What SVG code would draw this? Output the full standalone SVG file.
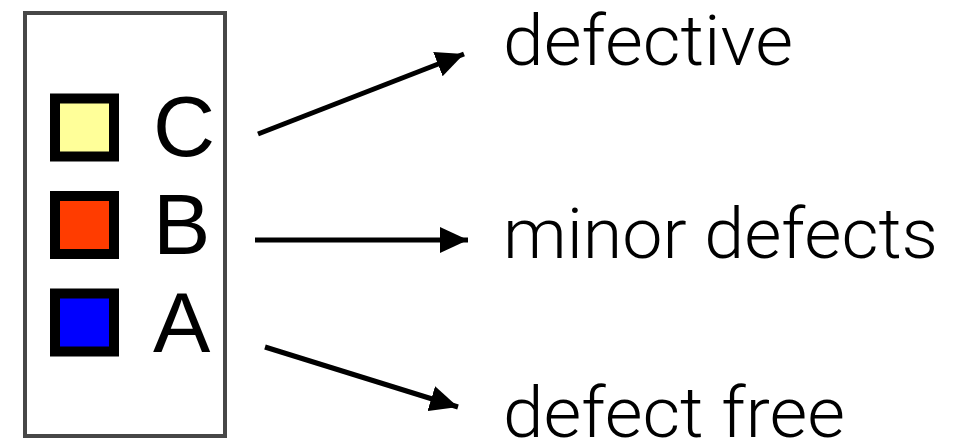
<svg xmlns="http://www.w3.org/2000/svg" width="970" height="441" viewBox="0 0 970 441">
<style>
.sw{stroke:#000;stroke-width:10}
.lt{font-family:"Liberation Sans",Arial,sans-serif;font-size:86px;fill:#000}
.lb{font-family:Roboto,"Liberation Sans",sans-serif;font-weight:300;font-size:70px;fill:#000}
.ar{stroke:#000;stroke-width:5;fill:none}
</style>
<defs>
<marker id="ah" markerUnits="userSpaceOnUse" markerWidth="28" markerHeight="26" refX="28" refY="13" orient="auto">
<path d="M0,0 L28,13 L0,26 Z" fill="#000"/>
</marker>
</defs>
<rect width="970" height="441" fill="#fff"/>
<g id="legend">
<rect x="25" y="13" width="200" height="423" fill="#fff" stroke="#474747" stroke-width="4"/>
</g>
<g id="C">
<rect class="sw" x="55" y="98.5" width="59" height="58" fill="#FFFF99"/>
<text class="lt" x="153" y="156">C</text>
</g>
<g id="B">
<rect class="sw" x="55" y="196" width="59" height="58" fill="#FF3C00"/>
<text class="lt" x="153" y="254">B</text>
</g>
<g id="A">
<rect class="sw" x="55" y="293.5" width="59" height="58" fill="#0000FF"/>
<text class="lt" x="153" y="352">A</text>
</g>
<g id="connectors">
<line class="ar" x1="258" y1="134" x2="464" y2="54" marker-end="url(#ah)"/>
<line class="ar" x1="255" y1="240" x2="468" y2="240" marker-end="url(#ah)"/>
<line class="ar" x1="265" y1="347" x2="458" y2="407" marker-end="url(#ah)"/>
</g>
<g id="defective"><text class="lb" x="503" y="65" textLength="290" lengthAdjust="spacingAndGlyphs">defective</text></g>
<g id="minor"><text class="lb" x="503" y="258" textLength="435" lengthAdjust="spacingAndGlyphs">minor defects</text></g>
<g id="free"><text class="lb" x="503" y="437" textLength="342" lengthAdjust="spacingAndGlyphs">defect free</text></g>
</svg>
